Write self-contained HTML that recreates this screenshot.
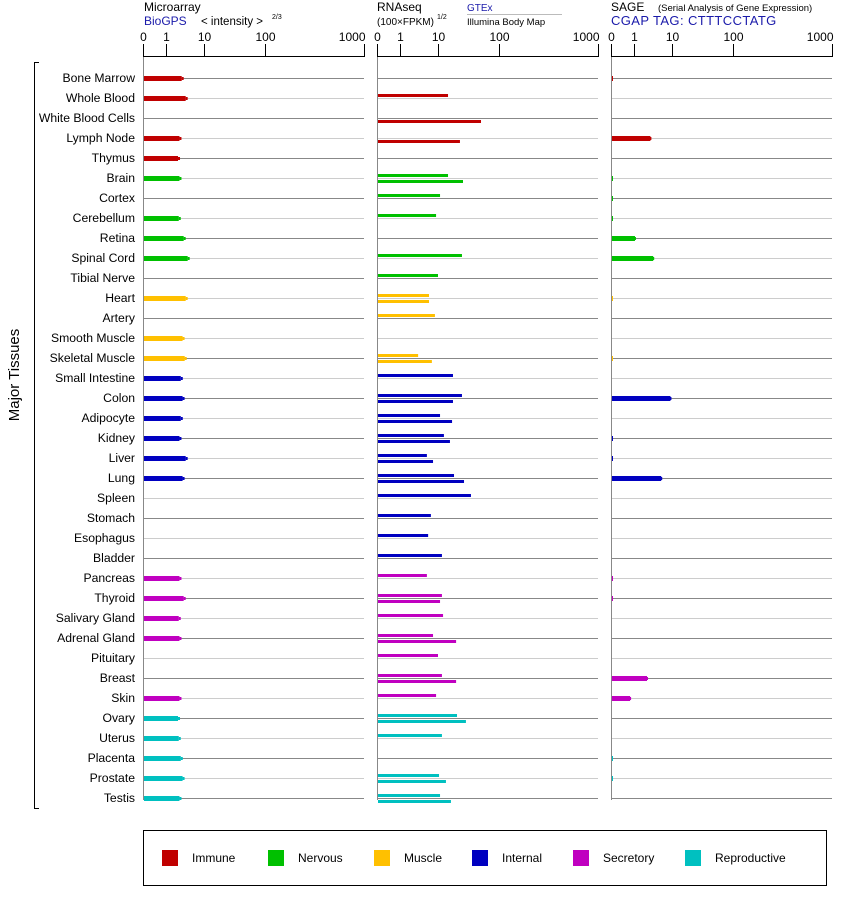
<!DOCTYPE html>
<html><head><meta charset="utf-8"><style>
body{margin:0;background:#fff;}
svg{display:block;font-family:"Liberation Sans",Arial,sans-serif;}
</style></head><body>
<svg id="chart" width="842" height="900" viewBox="0 0 842 900">
<g>
<text x="144" y="11" font-size="12">Microarray</text>
<text x="144" y="25" font-size="12" fill="#1a1aaa">BioGPS</text>
<text x="201" y="25" font-size="11.5">&lt; intensity &gt;</text>
<text x="272" y="19" font-size="7">2/3</text>
<text x="377" y="11" font-size="12">RNAseq</text>
<text x="377" y="25" font-size="10">(100×FPKM)</text>
<text x="437" y="19" font-size="7">1/2</text>
<text x="467" y="11" font-size="10" fill="#1a1aaa">GTEx</text>
<line x1="467" y1="14.5" x2="562" y2="14.5" stroke="#bbb"/>
<text x="467" y="25" font-size="9.5">Illumina Body Map</text>
<text x="611" y="11" font-size="12">SAGE</text>
<text x="658" y="11" font-size="9.5">(Serial Analysis of Gene Expression)</text>
<text x="611" y="25" font-size="13" fill="#1a1aaa" letter-spacing="0.4">CGAP TAG: CTTTCCTATG</text>
</g>
<line x1="34.5" y1="62" x2="34.5" y2="809" stroke="#000"/>
<line x1="34" y1="62.5" x2="39" y2="62.5" stroke="#000"/>
<line x1="34" y1="808.5" x2="39" y2="808.5" stroke="#000"/>
<text transform="translate(19,375) rotate(-90)" text-anchor="middle" font-size="15">Major Tissues</text>
<g id="plot"></g>
<rect x="143.5" y="830.5" width="683" height="55" fill="none" stroke="#000"/>
<g id="legend"></g>
</svg>
<script>
const tissues = ["Bone Marrow","Whole Blood","White Blood Cells","Lymph Node","Thymus","Brain","Cortex","Cerebellum","Retina","Spinal Cord","Tibial Nerve","Heart","Artery","Smooth Muscle","Skeletal Muscle","Small Intestine","Colon","Adipocyte","Kidney","Liver","Lung","Spleen","Stomach","Esophagus","Bladder","Pancreas","Thyroid","Salivary Gland","Adrenal Gland","Pituitary","Breast","Skin","Ovary","Uterus","Placenta","Prostate","Testis"];
const groups = ["Immune","Immune","Immune","Immune","Immune","Nervous","Nervous","Nervous","Nervous","Nervous","Nervous","Muscle","Muscle","Muscle","Muscle","Internal","Internal","Internal","Internal","Internal","Internal","Internal","Internal","Internal","Internal","Secretory","Secretory","Secretory","Secretory","Secretory","Secretory","Secretory","Reproductive","Reproductive","Reproductive","Reproductive","Reproductive"];
const groupNames = ["Immune","Nervous","Muscle","Internal","Secretory","Reproductive"];
const groupColors = ["#c00000","#00c000","#ffc000","#0000c0","#c000c0","#00c0c0"];
const microarray = [2.75,3.5,null,2.4,2.2,2.4,null,2.3,3.1,3.95,null,3.5,null,2.9,3.3,2.6,2.9,2.6,2.4,3.5,2.9,null,null,null,null,2.4,3.1,2.3,2.4,null,null,2.4,2.2,2.3,2.6,2.9,2.4];
const gtex = [null,14.6,null,null,null,14.6,10.8,8.9,null,24.7,10,5.8,8.3,null,3.0,17.6,24.7,10.8,12.5,5.1,18.3,34.7,6.5,5.5,11.6,5.1,11.6,12.1,7.4,10,11.6,8.9,20.5,11.6,null,10.4,10.8];
const illumina = [null,null,50.7,22.9,null,25.7,null,null,null,null,null,5.8,null,null,6.9,null,17.6,17,15.7,7.4,26.7,null,null,null,null,null,10.8,null,19.8,null,19.8,null,28.7,null,null,13.5,16.3];
const sage = [0.06,0,0,2.7,0,0.04,0.04,0.04,1.06,3.2,0,0.04,0,0,0.04,0,9.1,0,0.07,0.07,5.2,0,0,0,0,0.04,0.04,0,0,0,2.2,0.83,0,0,0.04,0.04,0];
const tickValues = [0,1,10,100,1000];
const tickLabels = ["0","1","10","100","1000"];
const NS='http://www.w3.org/2000/svg';
const plot=document.getElementById('plot');
function mk(tag,attrs,parent){const e=document.createElementNS(NS,tag);for(const k in attrs)e.setAttribute(k,attrs[k]);(parent||plot).appendChild(e);return e;}
const tickFrac=[0,23/221,61/221,122/221,1];
function scale(x0,v){
  const W=221;
  if(v<=0) return x0;
  if(v<=1) return x0+v*tickFrac[1]*W;
  const l=Math.log10(v);const i=Math.min(Math.floor(l),2);
  const f=tickFrac[i+1]+(l-i)*(tickFrac[i+2]-tickFrac[i+1]);
  return x0+f*W;
}
const panels=[{x0:143,name:'microarray'},{x0:377,name:'rnaseq'},{x0:611,name:'sage'}];
const rowY=i=>78+i*20;
panels.forEach(p=>{
  const g=mk('g',{});
  
  
  tissues.forEach((t,i)=>{
    const l=mk('line',{x1:p.x0+1,x2:p.x0+221,y1:rowY(i)+0.5,y2:rowY(i)+0.5,stroke:i%2?'#cccccc':'#888888'},g);
    
    
  });
  const ax=mk('line',{x1:p.x0,x2:p.x0+221,y1:56.5,y2:56.5,stroke:'#000'},g);
  
  
  const vl=mk('line',{x1:p.x0+0.5,x2:p.x0+0.5,y1:56,y2:800,stroke:'#888'},g);
  
  
  tickValues.forEach((v,k)=>{
    const x=Math.round(scale(p.x0,v))+0.5;
    const tk=mk('line',{x1:x,x2:x,y1:44,y2:57,stroke:'#000'},g);
    
    
    const tx=mk('text',{x:k==4?x+1:x,y:41,'font-size':12,'text-anchor':k==4?'end':'middle'},g);
    tx.textContent=tickLabels[k];
    
    
  });
});
tissues.forEach((t,i)=>{
  const y=rowY(i);const c=groupColors[groupNames.indexOf(groups[i])];
  const lb=mk('text',{x:135,y:y+4,'font-size':12.2,'text-anchor':'end'});
  lb.textContent=t;
  
  
  if(microarray[i]!=null){
    const x1=scale(143,microarray[i]);
    const b=mk('rect',{x:144,y:y-2,width:x1-144-1,height:5,fill:c});
    
    
    mk('rect',{x:x1-1,y:y-1,width:2,height:3,fill:c});
  }
  if(gtex[i]!=null){
    const b=mk('rect',{x:378,y:y-4,width:scale(377,gtex[i])-378,height:3,fill:c});
    
    
  }
  if(illumina[i]!=null){
    const b=mk('rect',{x:378,y:y+2,width:scale(377,illumina[i])-378,height:3,fill:c});
    
    
  }
  if(sage[i]>0){
    const x1=scale(611,sage[i]);
    const w=Math.max(x1-612,1);
    const b=mk('rect',{x:612,y:y-2,width:w,height:5,fill:c});
    
    
    if(w>3)mk('rect',{x:612+w-1,y:y-1,width:2,height:3,fill:c});
  }
});
const lg=document.getElementById('legend');
const lx=[162,268,374,472,573,685];
groupNames.forEach((n,k)=>{
  const r=mk('rect',{x:lx[k],y:850,width:16,height:16,fill:groupColors[k]},lg);
  
  
  const t=mk('text',{x:lx[k]+30,y:862,'font-size':12},lg);
  t.textContent=n;
  
  
});
</script>
</body></html>
